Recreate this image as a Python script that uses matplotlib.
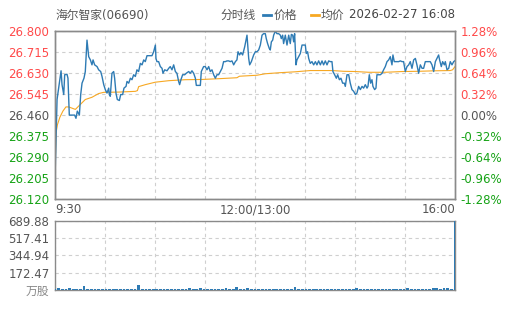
import matplotlib
matplotlib.use("Agg")
import matplotlib.pyplot as plt
from matplotlib.lines import Line2D

# ---- data ----
title = "海尔智家(06690)"
stamp = "2026-02-27 16:08"
prev_close = 26.460

# minutes since 9:30 (trading minutes, 0..330) and price
minutes = [0, 1.7, 3.0, 5.0, 5.8, 7.2, 8.0, 9.9, 10.7, 11.8, 14.0, 16.2, 17.3, 18.4, 20.1,
           21.2, 22.3, 23.9, 25.0, 26.4, 27.8, 29.2, 30.5, 31.4, 32.7, 34.7, 36.0, 37.7,
           38.8, 40.2, 41.5, 42.9, 44.3, 44.8, 45.6, 47.0, 48.4, 49.2, 50.3, 51.4, 53.1,
           54.2, 55.8, 56.9, 58.6, 59.4, 60.8, 62.2, 63.5, 64.9, 66.3, 67.6, 69.0, 70.4,
           71.8, 73.2, 74.5, 75.9, 77.8, 80.0, 81.4, 82.8, 83.3, 84.1, 85.5, 86.9, 88.3,
           89.1, 90.5, 92.4, 93.8, 95.1, 96.5, 97.9, 99.3, 100.6, 102.0, 102.8, 103.9,
           105.3, 107.0, 108.3, 110.3, 111.6, 113.0, 114.4, 115.8, 116.6, 118.5, 119.9,
           120.7, 122.6, 124.0, 125.4, 126.8, 128.1, 129.5, 130.9, 132.3, 133.6, 135.0,
           136.4, 137.8, 139.1, 140.5, 141.9, 143.3, 144.6, 146.0, 147.4, 148.8, 150.1,
           151.0, 152.3, 153.4, 154.8, 156.5, 158.4, 159.8, 160.6, 162.0, 163.9, 165.3,
           166.6, 168.0, 169.4, 170.8, 172.1, 173.5, 174.3, 175.4, 176.8, 177.6, 178.5,
           179.6, 180.4, 181.8, 183.1, 184.5, 185.9, 186.7, 187.8, 188.6, 190.0, 191.4,
           192.8, 194.1, 195.0, 196.1, 196.9, 197.7, 198.8, 199.6, 201.0, 202.4, 203.8,
           205.1, 206.5, 207.3, 208.4, 209.3, 210.6, 212.0, 213.4, 214.8, 216.1, 217.5,
           218.9, 220.3, 221.6, 223.0, 224.4, 225.8, 227.1, 228.5, 229.3, 230.7, 232.1,
           233.2, 234.6, 235.9, 237.3, 238.7, 239.5, 240.9, 242.3, 243.6, 245.0, 246.4,
           247.8, 249.1, 250.5, 251.9, 253.3, 254.6, 256.0, 257.4, 258.2, 259.3, 260.4,
           261.5, 262.3, 263.7, 264.8, 265.6, 267.0, 268.4, 269.8, 271.1, 272.5, 273.9,
           275.3, 276.6, 278.0, 278.8, 279.9, 282.1, 283.5, 284.9, 286.3, 287.6, 289.0,
           290.4, 291.8, 293.1, 294.5, 295.9, 297.3, 298.6, 300.0, 301.4, 302.8, 304.1,
           305.5, 306.9, 308.3, 309.6, 311.0, 312.4, 313.8, 315.1, 316.5, 317.3, 318.7,
           319.8, 321.2, 322.0, 323.4, 324.8, 326.1, 327.5, 328.9, 330.0]
price = [26.205, 26.522, 26.568, 26.638, 26.582, 26.542, 26.622, 26.624, 26.608, 26.459,
         26.459, 26.459, 26.446, 26.475, 26.459, 26.542, 26.588, 26.608, 26.635, 26.762,
         26.695, 26.682, 26.662, 26.682, 26.662, 26.655, 26.642, 26.635, 26.615, 26.582,
         26.562, 26.548, 26.568, 26.542, 26.535, 26.628, 26.635, 26.608, 26.548, 26.522,
         26.518, 26.542, 26.542, 26.568, 26.575, 26.595, 26.588, 26.608, 26.602, 26.622,
         26.615, 26.642, 26.635, 26.668, 26.662, 26.682, 26.675, 26.699, 26.699, 26.699,
         26.715, 26.742, 26.688, 26.675, 26.675, 26.655, 26.648, 26.628, 26.642, 26.638,
         26.648, 26.655, 26.642, 26.662, 26.635, 26.628, 26.595, 26.582, 26.602, 26.622,
         26.622, 26.628, 26.635, 26.628, 26.638, 26.628, 26.608, 26.579, 26.579, 26.579,
         26.635, 26.655, 26.655, 26.642, 26.655, 26.635, 26.642, 26.622, 26.608, 26.622,
         26.622, 26.635, 26.648, 26.675, 26.675, 26.678, 26.678, 26.675, 26.678, 26.662,
         26.675, 26.682, 26.715, 26.702, 26.712, 26.702, 26.735, 26.782, 26.688, 26.662,
         26.675, 26.702, 26.715, 26.715, 26.722, 26.742, 26.782, 26.788, 26.788, 26.768,
         26.748, 26.728, 26.722, 26.755, 26.762, 26.782, 26.798, 26.788, 26.788, 26.782,
         26.768, 26.782, 26.748, 26.782, 26.742, 26.782, 26.748, 26.785, 26.782, 26.755,
         26.788, 26.662, 26.682, 26.695, 26.708, 26.742, 26.742, 26.742, 26.708, 26.715,
         26.688, 26.668, 26.675, 26.662, 26.675, 26.662, 26.678, 26.662, 26.678, 26.662,
         26.678, 26.662, 26.678, 26.675, 26.675, 26.635, 26.622, 26.608, 26.622, 26.602,
         26.608, 26.588, 26.588, 26.575, 26.622, 26.622, 26.588, 26.562, 26.555, 26.542,
         26.548, 26.575, 26.562, 26.575, 26.568, 26.582, 26.568, 26.575, 26.622, 26.588,
         26.602, 26.575, 26.562, 26.568, 26.622, 26.622, 26.622, 26.628, 26.642, 26.655,
         26.675, 26.682, 26.695, 26.662, 26.702, 26.675, 26.675, 26.675, 26.678, 26.675,
         26.675, 26.635, 26.655, 26.662, 26.675, 26.648, 26.682, 26.688, 26.662, 26.628,
         26.662, 26.648, 26.648, 26.675, 26.675, 26.675, 26.675, 26.662, 26.635, 26.675,
         26.688, 26.702, 26.682, 26.655, 26.675, 26.662, 26.675, 26.642, 26.648, 26.675,
         26.662, 26.675, 26.679]

avg_minutes = [0, 0.8, 2.0, 4.0, 6.5, 9.0, 11.3, 16.8, 20.9, 25.0, 30.5, 36.0, 40.2, 52.5,
               66.3, 68.0, 69.0, 74.5, 82.8, 93.8, 107.5, 121.3, 135.0, 150.1, 152.1,
               166.6, 173.5, 184.5, 198.3, 210.6, 228.5, 238.1, 247.8, 258.8, 272.5,
               286.3, 300.0, 313.8, 326.1, 328.0, 330.0]
avg_price = [26.205, 26.385, 26.420, 26.450, 26.475, 26.492, 26.492, 26.482, 26.502,
             26.522, 26.531, 26.546, 26.551, 26.552, 26.555, 26.558, 26.574, 26.582,
             26.592, 26.598, 26.602, 26.603, 26.606, 26.610, 26.616, 26.620, 26.626,
             26.630, 26.634, 26.639, 26.639, 26.636, 26.635, 26.632, 26.632, 26.635,
             26.636, 26.638, 26.639, 26.642, 26.655]

# volume, one bar every 3 trading minutes
volume = [12, 18, 8, 9, 20, 7, 8, 10, 35, 8,
          7, 9, 6, 8, 7, 9, 6, 8, 7, 6,
          8, 7, 9, 52, 8, 6, 7, 8, 6, 7,
          8, 6, 7, 9, 6, 7, 8, 20, 7, 6,
          24, 8, 7, 6, 8, 7, 9, 20, 7, 8,
          28, 7, 8, 18, 7, 6, 8, 7, 6, 8,
          7, 9, 6, 8, 7, 6, 25, 8, 7, 6,
          8, 7, 9, 6, 8, 7, 6, 8, 7, 9,
          6, 8, 7, 20, 8, 6, 7, 8, 6, 7,
          8, 6, 7, 9, 6, 7, 8, 18, 7, 6,
          8, 7, 9, 8, 15, 18, 14, 17, 15, 9,
          689.88]
vol_minutes = list(range(0, 331, 3))

price_ticks = [26.120, 26.205, 26.290, 26.375, 26.460, 26.545, 26.630, 26.715, 26.800]
pct_labels = ["-1.28%", "-0.96%", "-0.64%", "-0.32%", "0.00%", "0.32%", "0.64%", "0.96%", "1.28%"]
vol_ticks = [0, 172.47, 344.94, 517.41, 689.88]
vol_labels = ["万股", "172.47", "344.94", "517.41", "689.88"]
time_labels = ["9:30", "12:00/13:00", "16:00"]

# ---- style ----
BLUE = "#2e7bb4"
ORANGE = "#f7a823"
RED = "#ff4a4a"
GREEN = "#16a316"
GRAY = "#555555"
GRID = "#cfcfcf"
SPINE = "#8a8a8a"
FONT = ["DejaVu Sans", "Noto Sans CJK SC"]
plt.rcParams["font.family"] = FONT
FS = 8.5


def tick_color(v):
    if v > prev_close + 1e-9:
        return RED
    if v < prev_close - 1e-9:
        return GREEN
    return GRAY


fig = plt.figure(figsize=(5.05, 3.10), dpi=100)
W, H = 505.0, 310.0
ax = fig.add_axes([55 / W, 1 - 199 / H, 400 / W, 168.3 / H])
axv = fig.add_axes([55 / W, 1 - 290 / H, 400 / W, 69.3 / H])

xgrid = [330 * i / 8 for i in range(9)]

# price panel
ax.plot(minutes, price, color=BLUE, lw=1.0, zorder=3)
ax.plot(avg_minutes, avg_price, color=ORANGE, lw=0.8, zorder=2)
ax.set_xlim(0, 330)
ax.set_ylim(price_ticks[0], price_ticks[-1])
ax.set_yticks(price_ticks)
ax.set_yticklabels(["%.3f" % v for v in price_ticks], fontsize=FS)
for lab, v in zip(ax.get_yticklabels(), price_ticks):
    lab.set_color(tick_color(v))
ax.set_xticks(xgrid)
ax.set_xticklabels([time_labels[0], "", "", "", time_labels[1], "", "", "", time_labels[2]],
                   fontsize=FS, color=GRAY)
xl = ax.get_xticklabels()
xl[0].set_ha("left")
xl[-1].set_ha("right")
ax.tick_params(length=0, pad=3)
ax.tick_params(axis="y", pad=4)
ax.grid(True, color=GRID, ls=(0, (3, 3)), lw=0.8)

axr = ax.twinx()
axr.set_ylim(price_ticks[0], price_ticks[-1])
axr.set_yticks(price_ticks)
axr.set_yticklabels(pct_labels, fontsize=FS)
for lab, v in zip(axr.get_yticklabels(), price_ticks):
    lab.set_color(tick_color(v))
axr.tick_params(length=0, pad=4)

# volume panel
axv.bar(vol_minutes, volume, width=2.3, color=BLUE, zorder=3)
axv.set_xlim(0, 330)
axv.set_ylim(0, vol_ticks[-1])
axv.set_yticks(vol_ticks)
axv.set_yticklabels(vol_labels, fontsize=FS, color=GRAY)
axv.get_yticklabels()[0].set_color("#888888")
axv.set_xticks(xgrid)
axv.set_xticklabels([])
axv.tick_params(length=0, pad=4)
axv.grid(True, color=GRID, ls=(0, (3, 3)), lw=0.8)

for a in (ax, axr, axv):
    for s in a.spines.values():
        s.set_color(SPINE)
        s.set_linewidth(1.0)

# header
ty = 1 - 15 / H
fig.text(55 / W, ty, title, fontsize=FS, color=GRAY, va="center", ha="left")
fig.text(220 / W, ty, "分时线", fontsize=FS, color=GRAY, va="center", ha="left")
fig.add_artist(Line2D([263 / W, 271 / W], [ty, ty], color=BLUE, lw=2))
fig.text(274 / W, ty, "价格", fontsize=FS, color=GRAY, va="center", ha="left")
fig.add_artist(Line2D([311 / W, 319 / W], [ty, ty], color=ORANGE, lw=2))
fig.text(321 / W, ty, "均价", fontsize=FS, color=GRAY, va="center", ha="left")
fig.text(455 / W, ty, stamp, fontsize=FS, color="#444444", va="center", ha="right")

fig.savefig("out.png", dpi=100)
